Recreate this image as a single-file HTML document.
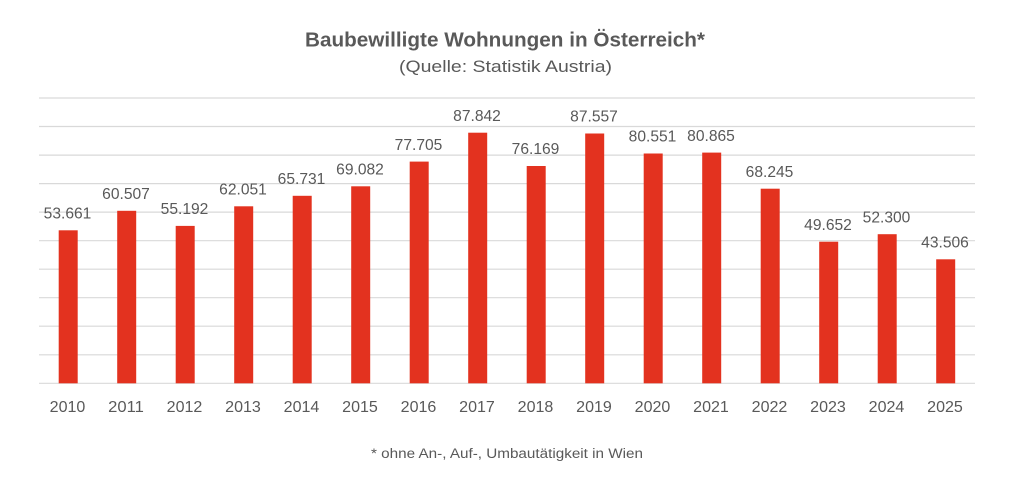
<!DOCTYPE html>
<html>
<head>
<meta charset="utf-8">
<style>
  html,body{margin:0;padding:0;background:#fff;}
  svg{display:block;}
  text{font-family:"Liberation Sans",sans-serif;fill:#595959;}
</style>
</head>
<body>
<svg width="1024" height="504" viewBox="0 0 1024 504" xmlns="http://www.w3.org/2000/svg">
  <rect width="1024" height="504" fill="#ffffff"/>
  <!-- title -->
  <text x="505" y="46.7" text-anchor="middle" font-weight="bold" font-size="20" textLength="400" lengthAdjust="spacingAndGlyphs">Baubewilligte Wohnungen in Österreich*</text>
  <text x="505.5" y="72" text-anchor="middle" font-size="17" textLength="213" lengthAdjust="spacingAndGlyphs">(Quelle: Statistik Austria)</text>
  <!-- gridlines -->
  <g stroke="#d9d9d9" stroke-width="1.2">
    <line x1="39" x2="975" y1="98" y2="98"/>
    <line x1="39" x2="975" y1="126.5" y2="126.5"/>
    <line x1="39" x2="975" y1="155.1" y2="155.1"/>
    <line x1="39" x2="975" y1="183.6" y2="183.6"/>
    <line x1="39" x2="975" y1="212.1" y2="212.1"/>
    <line x1="39" x2="975" y1="240.7" y2="240.7"/>
    <line x1="39" x2="975" y1="269.2" y2="269.2"/>
    <line x1="39" x2="975" y1="297.7" y2="297.7"/>
    <line x1="39" x2="975" y1="326.2" y2="326.2"/>
    <line x1="39" x2="975" y1="354.8" y2="354.8"/>
    <line x1="39" x2="975" y1="383.3" y2="383.3"/>
  </g>
  <!-- bars -->
  <g fill="#e3321f">
    <rect x="58.7" y="230.3" width="19" height="153"/>
    <rect x="117.2" y="210.8" width="19" height="172.5"/>
    <rect x="175.7" y="225.9" width="19" height="157.4"/>
    <rect x="234.2" y="206.3" width="19" height="177"/>
    <rect x="292.7" y="195.8" width="19" height="187.5"/>
    <rect x="351.2" y="186.3" width="19" height="197"/>
    <rect x="409.7" y="161.6" width="19" height="221.7"/>
    <rect x="468.2" y="132.7" width="19" height="250.6"/>
    <rect x="526.7" y="166" width="19" height="217.3"/>
    <rect x="585.2" y="133.5" width="19" height="249.8"/>
    <rect x="643.7" y="153.5" width="19" height="229.8"/>
    <rect x="702.2" y="152.6" width="19" height="230.7"/>
    <rect x="760.7" y="188.7" width="19" height="194.6"/>
    <rect x="819.2" y="241.7" width="19" height="141.6"/>
    <rect x="877.7" y="234.2" width="19" height="149.1"/>
    <rect x="936.2" y="259.3" width="19" height="124"/>
  </g>
  <!-- data labels -->
  <g font-size="15.6" text-anchor="middle">
    <text x="67.5" y="218.5" textLength="47.7" lengthAdjust="spacingAndGlyphs">53.661</text>
    <text x="126" y="199" textLength="47.7" lengthAdjust="spacingAndGlyphs">60.507</text>
    <text x="184.5" y="214" textLength="47.7" lengthAdjust="spacingAndGlyphs">55.192</text>
    <text x="243" y="194.5" textLength="47.7" lengthAdjust="spacingAndGlyphs">62.051</text>
    <text x="301.5" y="184" textLength="47.7" lengthAdjust="spacingAndGlyphs">65.731</text>
    <text x="360" y="174.5" textLength="47.7" lengthAdjust="spacingAndGlyphs">69.082</text>
    <text x="418.5" y="149.8" textLength="47.7" lengthAdjust="spacingAndGlyphs">77.705</text>
    <text x="477" y="121" textLength="47.7" lengthAdjust="spacingAndGlyphs">87.842</text>
    <text x="535.5" y="154.2" textLength="47.7" lengthAdjust="spacingAndGlyphs">76.169</text>
    <text x="594" y="121.7" textLength="47.7" lengthAdjust="spacingAndGlyphs">87.557</text>
    <text x="652.5" y="141.7" textLength="47.7" lengthAdjust="spacingAndGlyphs">80.551</text>
    <text x="711" y="140.8" textLength="47.7" lengthAdjust="spacingAndGlyphs">80.865</text>
    <text x="769.5" y="176.9" textLength="47.7" lengthAdjust="spacingAndGlyphs">68.245</text>
    <text x="828" y="229.9" textLength="47.7" lengthAdjust="spacingAndGlyphs">49.652</text>
    <text x="886.5" y="222.4" textLength="47.7" lengthAdjust="spacingAndGlyphs">52.300</text>
    <text x="945" y="247.5" textLength="47.7" lengthAdjust="spacingAndGlyphs">43.506</text>
  </g>
  <!-- x axis labels -->
  <g font-size="16" text-anchor="middle">
    <text x="67.5" y="412" textLength="35.7" lengthAdjust="spacingAndGlyphs">2010</text>
    <text x="126" y="412" textLength="35.7" lengthAdjust="spacingAndGlyphs">2011</text>
    <text x="184.5" y="412" textLength="35.7" lengthAdjust="spacingAndGlyphs">2012</text>
    <text x="243" y="412" textLength="35.7" lengthAdjust="spacingAndGlyphs">2013</text>
    <text x="301.5" y="412" textLength="35.7" lengthAdjust="spacingAndGlyphs">2014</text>
    <text x="360" y="412" textLength="35.7" lengthAdjust="spacingAndGlyphs">2015</text>
    <text x="418.5" y="412" textLength="35.7" lengthAdjust="spacingAndGlyphs">2016</text>
    <text x="477" y="412" textLength="35.7" lengthAdjust="spacingAndGlyphs">2017</text>
    <text x="535.5" y="412" textLength="35.7" lengthAdjust="spacingAndGlyphs">2018</text>
    <text x="594" y="412" textLength="35.7" lengthAdjust="spacingAndGlyphs">2019</text>
    <text x="652.5" y="412" textLength="35.7" lengthAdjust="spacingAndGlyphs">2020</text>
    <text x="711" y="412" textLength="35.7" lengthAdjust="spacingAndGlyphs">2021</text>
    <text x="769.5" y="412" textLength="35.7" lengthAdjust="spacingAndGlyphs">2022</text>
    <text x="828" y="412" textLength="35.7" lengthAdjust="spacingAndGlyphs">2023</text>
    <text x="886.5" y="412" textLength="35.7" lengthAdjust="spacingAndGlyphs">2024</text>
    <text x="945" y="412" textLength="35.7" lengthAdjust="spacingAndGlyphs">2025</text>
  </g>
  <!-- footnote -->
  <text x="507" y="458" text-anchor="middle" font-size="13.5" textLength="272" lengthAdjust="spacingAndGlyphs">* ohne An-, Auf-, Umbautätigkeit in Wien</text>
</svg>
</body>
</html>
